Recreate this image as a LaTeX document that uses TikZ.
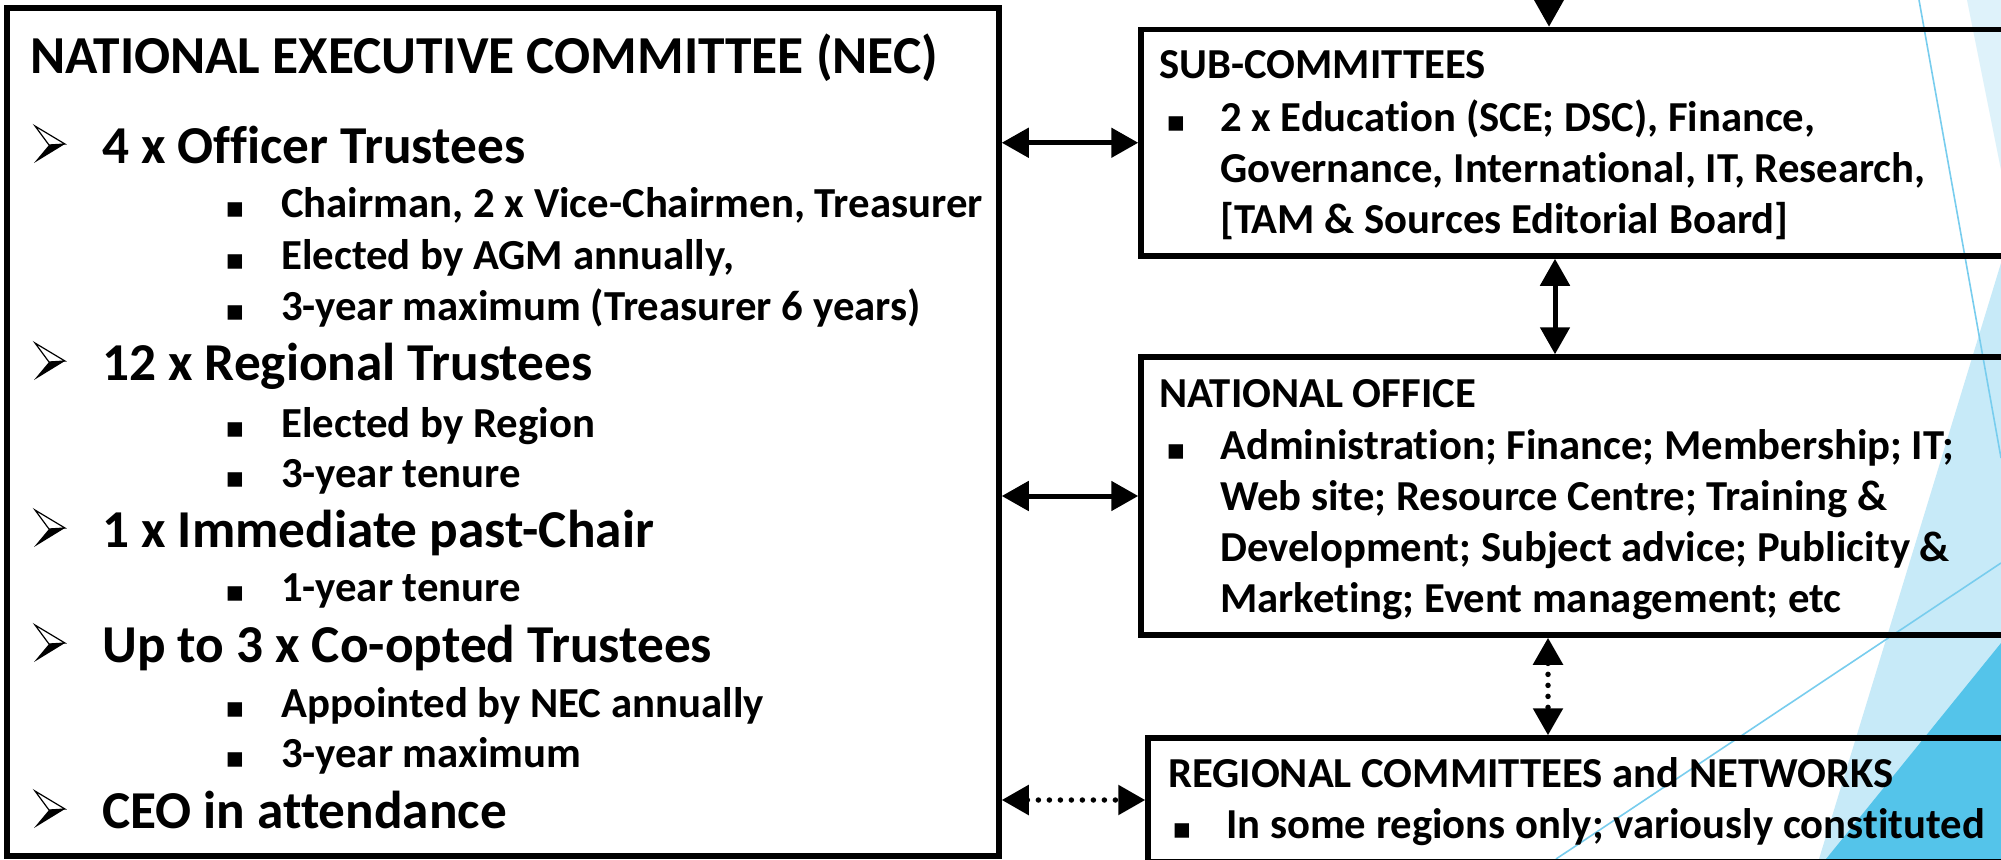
\documentclass[tikz,border=0pt]{standalone}
\usepackage{fontspec}
\setmainfont{Carlito}[Ligatures=NoCommon]
\newfontfamily\dvs{DejaVu Sans}
\usetikzlibrary{arrows.meta}
\definecolor{vlightb}{RGB}{222,242,250}
\definecolor{lightb}{RGB}{199,234,248}
\definecolor{darkb}{RGB}{84,196,234}
\definecolor{lineb}{RGB}{120,205,238}
\newcommand{\arrbullet}[2]{%
  \filldraw[fill=white,draw=black,line width=1.2pt,line join=miter]
    (#1+1,#2-37) -- (#1+31,#2-19) -- (#1+15,#2-18) -- cycle;
  \fill[black] (#1+15,#2-18) -- (#1+31,#2-19) -- (#1,#2) -- cycle;
}
\begin{document}
\begin{tikzpicture}[x=1pt,y=-1pt,
  box/.style={draw=black,line width=5.5pt,rectangle,inner sep=0pt,anchor=north west},
  tl/.style={anchor=base west,inner sep=0pt,font=\fontsize{53.4}{60}\selectfont\bfseries},
  lone/.style={anchor=base west,inner sep=0pt,font=\fontsize{53.3}{60}\selectfont\bfseries},
  ltwo/.style={anchor=base west,inner sep=0pt,font=\fontsize{42.8}{50}\selectfont\bfseries},
  rt/.style={anchor=base west,inner sep=0pt,font=\fontsize{42.7}{50}\selectfont\bfseries},
  sqbul/.style={anchor=base west,inner sep=0pt,font=\dvs\fontsize{29}{36}\selectfont},
  conn/.style={line width=5pt,{Triangle[length=27pt,width=29pt]}-{Triangle[length=27pt,width=29pt]}},
  connd/.style={conn,line width=5.5pt,dash pattern=on 0pt off 11pt,line cap=round},
  conntop/.style={line width=5pt,-{Triangle[length=28pt,width=30pt]}},
  thin/.style={draw=lineb,line width=1.6pt}
]
\useasboundingbox (0,0) rectangle (2001,859);
\clip (0,0) rectangle (2001,859);
\fill[white] (0,0) rectangle (2001,859);
% background facets
\fill[vlightb] (1967,0) -- (2001,0) -- (2001,170) -- cycle;
\fill[lightb] (1819,859) -- (2001,263) -- (2001,859) -- cycle;
\fill[darkb] (1826,859) -- (2001,643) -- (2001,859) -- cycle;
\draw[thin] (1919,0) -- (2001,458);
\draw[thin] (1556,859) -- (2001,563);

% boxes
\node[box,minimum width=992pt,minimum height=848pt] (nec) at (4.25,5.25) {};
\node[box,minimum width=899pt,minimum height=226.5pt] (sub) at (1138.25,26.75) {};
\node[box,minimum width=899pt,minimum height=278pt] (off) at (1138.25,354.25) {};
\node[box,minimum width=892pt,minimum height=124pt] (reg) at (1145.25,735.25) {};

% NEC text
\node[tl] (nt) at (30,74) {NATIONAL EXECUTIVE COMMITTEE (NEC)};
\arrbullet{34}{163}
\node[lone] (t1) at (102,163) {4 x Officer Trustees};
\node[sqbul] (s1) at (225,217) {▪};
\node[ltwo] (u1) at (281,217) {Chairman, 2 x Vice-Chairmen, Treasurer};
\node[sqbul] (s2) at (225,269) {▪};
\node[ltwo] (u2) at (281,269) {Elected by AGM annually,};
\node[sqbul] (s3) at (225,320) {▪};
\node[ltwo] (u3) at (281,320) {3-year maximum (Treasurer 6 years)};
\arrbullet{34}{380}
\node[lone] (t2) at (102,380) {12 x Regional Trustees};
\node[sqbul] (s4) at (225,437) {▪};
\node[ltwo] (u4) at (281,437) {Elected by Region};
\node[sqbul] (s5) at (225,487) {▪};
\node[ltwo] (u5) at (281,487) {3-year tenure};
\arrbullet{34}{547}
\node[lone] (t3) at (102,547) {1 x Immediate past-Chair};
\node[sqbul] (s6) at (225,601) {▪};
\node[ltwo] (u6) at (281,601) {1-year tenure};
\arrbullet{34}{662}
\node[lone] (t4) at (102,662) {Up to 3 x Co-opted Trustees};
\node[sqbul] (s7) at (225,717) {▪};
\node[ltwo] (u7) at (281,717) {Appointed by NEC annually};
\node[sqbul] (s8) at (225,767) {▪};
\node[ltwo] (u8) at (281,767) {3-year maximum};
\arrbullet{34}{828}
\node[lone] (t5) at (102,828) {CEO in attendance};

% SUB-COMMITTEES
\node[rt] (st) at (1159,78) {SUB-COMMITTEES};
\node[sqbul] (sb1) at (1166,131) {▪};
\node[rt] (sl1) at (1220,131) {2 x Education (SCE; DSC), Finance,};
\node[rt] (sl2) at (1220,182) {Governance, International, IT, Research,};
\node[rt] (sl3) at (1220,233) {[TAM \& Sources Editorial Board]};

% NATIONAL OFFICE
\node[rt] (ot) at (1159,407) {NATIONAL OFFICE};
\node[sqbul] (ob1) at (1166,459) {▪};
\node[rt] (ol1) at (1220,459) {Administration; Finance; Membership; IT;};
\node[rt] (ol2) at (1220,510) {Web site; Resource Centre; Training \&};
\node[rt] (ol3) at (1220,561) {Development; Subject advice; Publicity \&};
\node[rt] (ol4) at (1220,612) {Marketing; Event management; etc};

% REGIONAL
\node[rt] (rgt) at (1168,787) {REGIONAL COMMITTEES and NETWORKS};
\node[sqbul] (rb1) at (1172,838) {▪};
\node[rt] (rl1) at (1226,838) {In some regions only; variously constituted};

% connectors
\coordinate (colA) at (1555,0);
\coordinate (colB) at (1548,0);
\coordinate (topin) at (1549,-60);
\draw[conn] (nec.east |- sub.west) -- (sub.west);
\draw[conn] (nec.east |- off.west) -- (off.west);
\draw[connd] (nec.east |- reg.west) -- (reg.west);
\draw[conn] (sub.south -| colA) -- (off.north -| colA);
\draw[connd] (off.south -| colB) -- (reg.north -| colB);
\draw[conntop] (topin) -- (sub.north -| topin);
\end{tikzpicture}
\end{document}
